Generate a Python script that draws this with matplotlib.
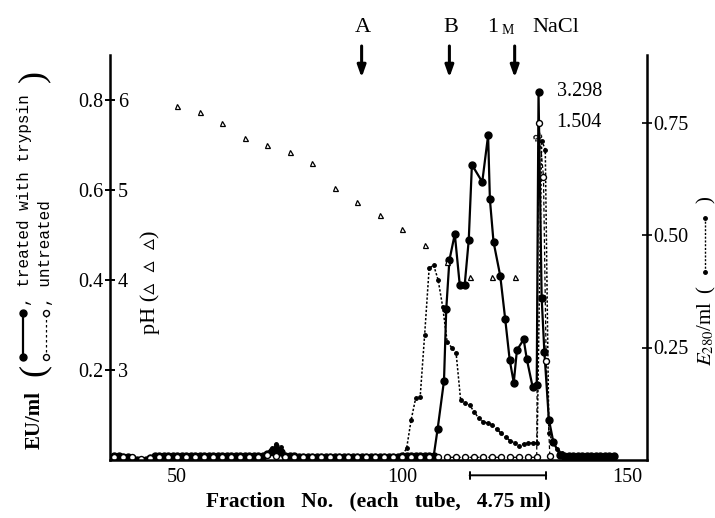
import numpy as np
import matplotlib.pyplot as plt
from matplotlib.lines import Line2D

plt.rcParams['font.family'] = ['Liberation Serif', 'DejaVu Serif', 'DejaVu Sans']
plt.rcParams['mathtext.fontset'] = 'stix'

# ---- values ----
# EU/ml, treated with trypsin (filled circles, solid line)
trypsin_x = list(range(36, 108)) + [
    107.9, 109.3, 109.8, 110.5, 111.7, 112.8, 113.9, 114.8, 115.5, 117.8,
    119.1, 119.5, 120.3, 121.8, 122.9, 123.9, 124.8, 125.5, 127.0, 127.7,
    129.0, 129.9, 130.3, 131.0, 131.6, 132.6, 133.6, 135.0] + list(range(136, 148))
trypsin_y = [
    0.008, 0.008, 0.007, 0.006, 0.004, 0.000, -0.004, 0.001, 0.005, 0.008, 0.009, 0.008,
    0.008, 0.009, 0.008, 0.008, 0.009, 0.008, 0.008, 0.009, 0.008, 0.008, 0.009, 0.008,
    0.008, 0.008, 0.009, 0.008, 0.008, 0.009, 0.008, 0.008, 0.009, 0.010, 0.013, 0.020,
    0.024, 0.018, 0.009, 0.008, 0.008, 0.007, 0.007, 0.007, 0.007, 0.007, 0.007, 0.007,
    0.007, 0.007, 0.007, 0.007, 0.007, 0.007, 0.007, 0.007, 0.007, 0.007, 0.007, 0.007,
    0.007, 0.007, 0.007, 0.007, 0.008, 0.008, 0.008, 0.008, 0.008, 0.008, 0.008, 0.008,
    0.070, 0.176, 0.335, 0.444, 0.502, 0.389, 0.389, 0.489, 0.656, 0.618,
    0.757, 0.579, 0.485, 0.409, 0.313, 0.222, 0.172, 0.244, 0.268, 0.224,
    0.162, 0.167, 3.298, 0.360, 0.240, 0.090, 0.040, 0.012,
    0.010, 0.009, 0.008, 0.008, 0.008, 0.008, 0.008, 0.008, 0.008, 0.008, 0.008, 0.010]

# EU/ml, untreated (open circles, broken line)
untreated_x = list(range(36, 130, 2)) + [129.9, 130.3, 131.4, 132.0, 132.8]
untreated_y = [
    0.007, 0.007, 0.006, 0.002, 0.004, 0.007, 0.007, 0.007, 0.007, 0.007, 0.007, 0.007,
    0.007, 0.007, 0.007, 0.007, 0.007, 0.012, 0.008, 0.006, 0.006, 0.006, 0.006, 0.006,
    0.006, 0.006, 0.006, 0.006, 0.006, 0.006, 0.006, 0.006, 0.006, 0.006, 0.006, 0.006,
    0.006, 0.006, 0.006, 0.006, 0.006, 0.006, 0.006, 0.006, 0.006, 0.006, 0.006,
    0.006, 1.504, 0.630, 0.220, 0.010]

# E280/ml (small dots, dotted line)
e280_x = list(range(36, 131)) + [131.0, 131.8, 132.6, 133.5, 134.5, 135.5] + list(range(137, 148))
e280_y = [
    0.006, 0.006, 0.005, 0.005, 0.004, 0.002, 0.000, 0.003, 0.006, 0.007, 0.008, 0.007,
    0.007, 0.008, 0.007, 0.007, 0.008, 0.007, 0.007, 0.008, 0.007, 0.007, 0.008, 0.007,
    0.007, 0.007, 0.008, 0.007, 0.007, 0.008, 0.007, 0.008, 0.008, 0.010, 0.016, 0.026,
    0.036, 0.030, 0.012, 0.007, 0.006, 0.006, 0.007, 0.006, 0.006, 0.007, 0.006, 0.006,
    0.006, 0.007, 0.006, 0.006, 0.007, 0.006, 0.006, 0.007, 0.006, 0.006, 0.007, 0.006,
    0.006, 0.007, 0.006, 0.008,
    0.010, 0.026, 0.089, 0.137, 0.139, 0.278, 0.426, 0.433, 0.400, 0.341,
    0.263, 0.250, 0.237, 0.133, 0.126, 0.122, 0.107, 0.093, 0.085, 0.082,
    0.078, 0.069, 0.059, 0.051, 0.043, 0.038, 0.031, 0.036, 0.037, 0.038, 0.038,
    0.710, 0.690, 0.060, 0.040, 0.025, 0.015,
    0.008, 0.008, 0.008, 0.008, 0.008, 0.008, 0.008, 0.008, 0.008, 0.008, 0.009]

# pH of the gradient (open triangles)
ph_x = [50, 55, 60, 65, 70, 75, 80, 85, 90, 95, 100, 105, 110, 115, 120, 125]
ph_y = [5.93, 5.87, 5.74, 5.58, 5.50, 5.42, 5.30, 5.02, 4.87, 4.72, 4.57, 4.39, 4.20, 4.03, 4.03, 4.03]

# elution steps and pooled fractions
events = [('A', 91), ('B', 110.5), ('1 M NaCl', 125)]
pooled = (115, 132)

# off-scale values are squeezed above the axis break
BREAK = 0.72
SQUEEZE = 0.038


def on_scale(v):
    v = np.asarray(v, dtype=float)
    return np.where(v > BREAK, BREAK + (v - BREAK) * SQUEEZE, v)


W, H = 715, 518


def fx(px):
    return px / W


def fy(py):
    return 1 - py / H


fig = plt.figure(figsize=(W / 100, H / 100), dpi=100)
ax = fig.add_axes([fx(110), 58 / H, 537 / W, 405 / H])
ax_e = ax.twinx()
ax_ph = ax.twinx()
ax_e.set_zorder(1)
ax.set_zorder(2)
ax.patch.set_visible(False)
ax_ph.set_zorder(3)

# EU axis
ax.set_xlim(35.1, 154.4)
ax.set_ylim(0, 0.9)
ax.plot(trypsin_x, on_scale(trypsin_y), '-o', color='black', lw=1.6, ms=5)
ax.plot(untreated_x, on_scale(untreated_y), 'o', ls=(0, (3, 2)), color='black',
        lw=0.9, ms=4.3, mfc='white', mew=1.0)
for xs, ys in [(trypsin_x, trypsin_y), (untreated_x, untreated_y)]:
    i = int(np.argmax(ys))
    ax.annotate(f'{ys[i]:.3f}', xy=(xs[i], on_scale(ys[i])), xytext=(18, 0),
                textcoords='offset pixels', va='center', ha='left', fontsize=14.5)
ax.text(130.3, 0.715, '≈', rotation=35, ha='center', va='center', fontsize=13,
        fontweight='bold', zorder=5)

ax.set_yticks([0.2, 0.4, 0.6, 0.8])
ax.set_yticklabels(['0.2', '0.4', '0.6', '0.8'])
ax.set_xticks([50, 100, 150])
ax.tick_params(axis='y', direction='inout', length=7, width=1.4, pad=1, labelsize=14.5)
ax.tick_params(axis='x', length=0, pad=6, labelsize=14.5)
for s in ['top', 'right']:
    ax.spines[s].set_visible(False)
for s in ['left', 'bottom']:
    ax.spines[s].set_linewidth(1.8)
ax.set_xlabel('Fraction   No.   (each   tube,   4.75 ml)', fontsize=15.5, fontweight='bold',
              labelpad=3)

# E280 axis
ax_e.set_ylim(0, 0.9)
ax_e.plot(e280_x, e280_y, '.', ls=(0, (1.5, 1.2)), color='black', lw=1.1, ms=5)
ax_e.set_yticks([0.25, 0.5, 0.75])
ax_e.set_yticklabels(['0.25', '0.50', '0.75'])
ax_e.tick_params(axis='y', direction='inout', length=7, width=1.2, pad=1, labelsize=14.5)
for s in ['top', 'left', 'bottom']:
    ax_e.spines[s].set_visible(False)
ax_e.spines['right'].set_linewidth(1.8)

# pH axis (labels sit just inside the left spine)
ax_ph.set_ylim(2, 6.5)
ax_ph.plot(ph_x, ph_y, '^', color='black', ms=3.6, mfc='white', mew=0.9)
for s in ax_ph.spines.values():
    s.set_visible(False)
ax_ph.yaxis.tick_left()
ax_ph.set_yticks([3, 4, 5, 6])
ax_ph.tick_params(axis='y', length=0, pad=-13, labelsize=14.5)

# elution arrows
for label, frac in events:
    ax.annotate('', xy=(frac, 0.85), xytext=(frac, 0.92),
                arrowprops=dict(arrowstyle='-|>,head_length=0.7,head_width=0.25',
                                lw=2.2, color='black', shrinkA=0, shrinkB=0),
                annotation_clip=False)
    if label.startswith('1'):
        ax.annotate('1', xy=(frac, 0.92), xytext=(-22, 18), textcoords='offset pixels',
                    ha='center', va='center', fontsize=16, annotation_clip=False)
        ax.annotate('M', xy=(frac, 0.92), xytext=(-7, 16), textcoords='offset pixels',
                    ha='center', va='center', fontsize=10, annotation_clip=False)
        ax.annotate('NaCl', xy=(frac, 0.92), xytext=(41, 18), textcoords='offset pixels',
                    ha='center', va='center', fontsize=16, annotation_clip=False)
    else:
        ax.annotate(label, xy=(frac, 0.92), xytext=(1, 18), textcoords='offset pixels',
                    ha='center', va='center', fontsize=16, annotation_clip=False)

# pooled fractions bar under the axis
ax.annotate('', xy=(pooled[0], -0.034), xytext=(pooled[1], -0.034),
            arrowprops=dict(arrowstyle='|-|,widthA=0.25,widthB=0.25', lw=1.4,
                            color='black', shrinkA=0, shrinkB=0),
            annotation_clip=False)

# left axis title with inline key
mono = ['Liberation Mono', 'DejaVu Sans Mono']
fig.text(fx(35), fy(420), 'EU/ml', rotation=90, ha='center', va='center', fontsize=15,
         fontweight='bold')
fig.text(fx(34), fy(370), '(', rotation=90, ha='center', va='center', fontsize=26)
fig.text(fx(34), fy(76), ')', rotation=90, ha='center', va='center', fontsize=26)
fig.add_artist(Line2D([fx(23), fx(23)], [fy(357), fy(313)], transform=fig.transFigure,
                      color='black', lw=1.6, marker='o', ms=5))
fig.add_artist(Line2D([fx(46), fx(46)], [fy(357), fy(313)], transform=fig.transFigure,
                      color='black', lw=0.9, ls=(0, (2, 2)), marker='o', ms=4.3,
                      mfc='white', mew=1.0))
fig.text(fx(25), fy(306), ', treated with trypsin', rotation=90, rotation_mode='anchor',
         ha='left', va='center', fontsize=11.5, family=mono)
fig.text(fx(46), fy(306), ', untreated', rotation=90, rotation_mode='anchor',
         ha='left', va='center', fontsize=11.5, family=mono)

# pH label
fig.text(fx(150), fy(334), 'pH (\u25b5  \u25b5  \u25b5)', rotation=90, rotation_mode='anchor',
         ha='left', va='center', fontsize=16)

# right axis title with inline key
fig.text(fx(706), fy(366), '$E_{280}$/ml', rotation=90, rotation_mode='anchor',
         ha='left', va='center', fontsize=15)
fig.text(fx(706), fy(290), '(', rotation=90, ha='center', va='center', fontsize=15)
fig.text(fx(706), fy(200), ')', rotation=90, ha='center', va='center', fontsize=15)
fig.add_artist(Line2D([fx(705), fx(705)], [fy(272), fy(218)], transform=fig.transFigure,
                      color='black', lw=1.0, ls=(0, (1.5, 1.2)), marker='.', ms=5))

fig.savefig('out.png', dpi=100)
